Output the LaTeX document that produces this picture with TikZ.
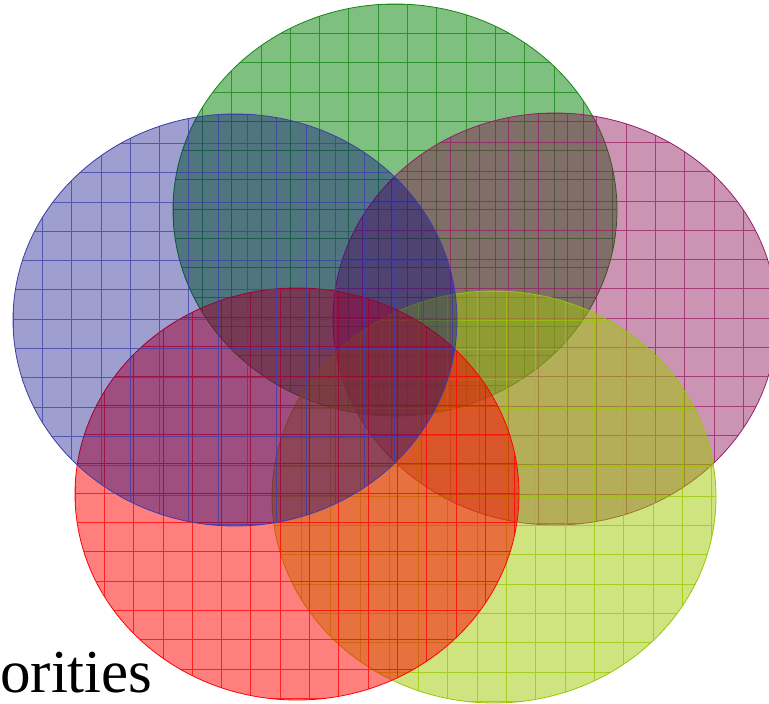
\documentclass[tikz,border=0pt]{standalone}
\usepackage{fontspec}
\setmainfont{Liberation Serif}
% fill colours
\definecolor{greenfill}{RGB}{0,128,0}
\definecolor{purplefill}{RGB}{130,0,75}
\definecolor{yellowfill}{RGB}{160,200,0}
\definecolor{redfill}{RGB}{255,0,0}
\definecolor{bluefill}{RGB}{0,0,128}
% line colours
\definecolor{greenline}{RGB}{20,135,20}
\definecolor{purpleline}{RGB}{150,30,100}
\definecolor{yellowline}{RGB}{150,200,0}
\definecolor{redline}{RGB}{255,0,0}
\definecolor{blueline}{RGB}{60,60,170}
\begin{document}
\begin{tikzpicture}[x=1pt, y=-1pt]
    \useasboundingbox (0,0) rectangle (769,704);

    % Five overlapping ellipses, each filled and ruled with a grid
    \foreach \cx/\cy/\fcol/\lcol/\op in {395/210/greenfill/greenline/0.5,
                                         555/319/purplefill/purpleline/0.42,
                                         494/497/yellowfill/yellowline/0.5,
                                         297/494/redfill/redline/0.5,
                                         235/320/bluefill/blueline/0.38}{
        \begin{scope}
            \clip (\cx,\cy) ellipse [x radius=222, y radius=206];
            \fill[\fcol, opacity=\op] (\cx,\cy) ellipse [x radius=222, y radius=206];
            \draw[\lcol, opacity=0.75, line width=0.8pt, shift={(\cx-222,\cy-206)},
                  xstep=29.3pt, ystep=29.3pt] (0,0) grid (444,412);
        \end{scope}
        % Ellipse boundary
        \draw[\lcol, line width=0.8pt] (\cx,\cy) ellipse [x radius=222, y radius=206];
    }

    % Cut-off caption
    \node[anchor=base west, inner sep=0pt, font=\fontsize{61}{68}\selectfont] (caption) at (0,692) {orities};
\end{tikzpicture}
\end{document}
